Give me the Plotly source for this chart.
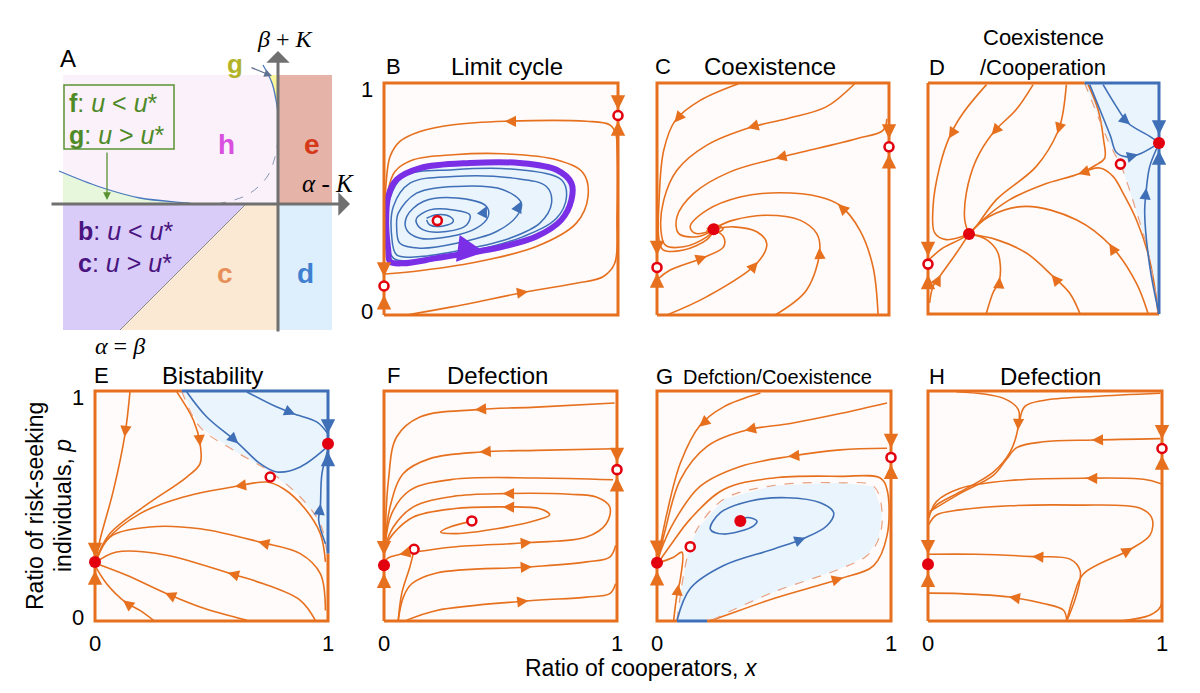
import plotly.graph_objects as go

W, H = 1200, 693
ORANGE = '#E6701E'
BLUE = '#3F6FB6'
BLUEFILL = '#EAF4FD'
PURPLE = '#7A2EE6'
RED = '#E3000F'
BG = '#FFFBFA'
FONT = 'Liberation Sans, Arial, sans-serif'
SERIF = 'Liberation Serif, DejaVu Serif, serif'

# ---------------- data (x = ratio of cooperators, p = ratio of risk-seeking) ----------------
# Panel B: limit cycle
B_outer = [(0.097, 0), (0.296, 0.036), (0.616, 0.101), (0.822, 0.137), (0.936, 0.165), (0.986, 0.223),
           (0.996, 0.424), (0.996, 0.712), (0.990, 0.784), (0.964, 0.820), (0.865, 0.835), (0.516, 0.835),
           (0.296, 0.820), (0.154, 0.791), (0.068, 0.748), (0.026, 0.683), (0.009, 0.568), (0.003, 0.424),
           (0.001, 0.281), (0, 0.165)]
B_orange2 = [(0.004, 0.177), (0.083, 0.183), (0.367, 0.223), (0.651, 0.295), (0.822, 0.396), (0.872, 0.511),
             (0.851, 0.612), (0.737, 0.669), (0.509, 0.695), (0.296, 0.691), (0.125, 0.669), (0.047, 0.619),
             (0.018, 0.540), (0.011, 0.424)]
B_cycle = [(0.018, 0.281), (0.009, 0.396), (0.018, 0.511), (0.054, 0.583), (0.154, 0.633), (0.367, 0.655),
           (0.580, 0.655), (0.737, 0.626), (0.801, 0.568), (0.801, 0.496), (0.758, 0.410), (0.651, 0.338),
           (0.509, 0.295), (0.395, 0.273), (0.225, 0.245), (0.083, 0.223), (0.026, 0.230), (0.018, 0.281)]
B_loop1 = [(0.182, 0.417), (0.225, 0.432), (0.282, 0.424), (0.296, 0.403), (0.253, 0.384), (0.196, 0.388), (0.182, 0.410)]
B_loop2 = [(0.139, 0.417), (0.196, 0.453), (0.296, 0.453), (0.367, 0.432), (0.353, 0.388), (0.267, 0.360),
           (0.168, 0.367), (0.139, 0.396), (0.139, 0.417)]
B_loop3 = [(0.097, 0.424), (0.168, 0.489), (0.310, 0.504), (0.438, 0.468), (0.445, 0.424), (0.395, 0.374),
           (0.282, 0.338), (0.154, 0.331), (0.097, 0.367), (0.097, 0.424)]
B_loop4 = [(0.061, 0.439), (0.139, 0.525), (0.310, 0.554), (0.509, 0.540), (0.587, 0.482), (0.566, 0.424),
           (0.481, 0.360), (0.310, 0.309), (0.154, 0.288), (0.068, 0.309), (0.054, 0.381), (0.061, 0.439)]
B_loop5 = [(0.040, 0.468), (0.111, 0.568), (0.296, 0.597), (0.552, 0.590), (0.694, 0.554), (0.716, 0.482),
           (0.666, 0.396), (0.538, 0.331), (0.339, 0.281), (0.154, 0.252), (0.054, 0.259), (0.033, 0.338), (0.040, 0.468)]
B_loop6 = [(0.023, 0.496), (0.083, 0.597), (0.296, 0.626), (0.580, 0.626), (0.758, 0.583), (0.780, 0.511),
           (0.737, 0.417), (0.595, 0.338), (0.367, 0.273), (0.154, 0.237), (0.040, 0.245), (0.018, 0.338), (0.023, 0.496)]
B_stable = []
B_unstable = [(1, 0.86), (0, 0.125), (0.228, 0.407)]
B_arrows = [(0.516, 0.835, 0.56, 0.835), (0.616, 0.101, 0.57, 0.094)]
B_arrows_blue = [(0.44, 0.47, 0.425, 0.44), (0.587, 0.49, 0.57, 0.455)]
B_arrows_purple = [(0.43, 0.271, 0.35, 0.282)]
B_edge = [(1, 0.885, 1, 0.94), (1, 0.835, 1, 0.78), (0, 0.165, 0, 0.22), (0, 0.086, 0, 0.03)]

# Panel C: coexistence
C_c1 = [(0.351, 0.997), (0.186, 0.925), (0.079, 0.839), (0.029, 0.710), (0.009, 0.495), (0.008, 0.33),
        (0.025, 0.282), (0.115, 0.28), (0.215, 0.325), (0.246, 0.366)]
C_c2 = [(0.852, 0.997), (0.729, 0.897), (0.559, 0.846), (0.401, 0.808), (0.215, 0.732), (0.086, 0.624),
        (0.029, 0.495), (0.017, 0.366), (0.036, 0.301), (0.115, 0.294), (0.215, 0.337), (0.246, 0.366)]
C_c3 = [(0.991, 0.846), (0.974, 0.796), (0.860, 0.760), (0.530, 0.679), (0.315, 0.617), (0.158, 0.524),
        (0.086, 0.423), (0.093, 0.352), (0.172, 0.337), (0.244, 0.366)]
C_c4 = [(0.953, 0), (0.931, 0.208), (0.874, 0.366), (0.788, 0.473), (0.702, 0.509), (0.530, 0.527),
        (0.358, 0.509), (0.215, 0.452), (0.143, 0.380), (0.165, 0.352), (0.246, 0.366)]
C_c5 = [(0.509, 0), (0.645, 0.108), (0.702, 0.280), (0.688, 0.352), (0.616, 0.409), (0.473, 0.430),
        (0.330, 0.409), (0.258, 0.380)]
C_c6 = [(0.043, 0), (0.215, 0.079), (0.430, 0.222), (0.473, 0.308), (0.430, 0.359), (0.330, 0.380), (0.258, 0.373)]
C_c7 = [(0.007, 0.158), (0.057, 0.194), (0.201, 0.248), (0.287, 0.294), (0.287, 0.337), (0.251, 0.366)]
C_c8 = [(0.215, 0.37), (0.245, 0.39), (0.285, 0.372), (0.25, 0.352), (0.215, 0.362), (0.244, 0.37)]
C_stable = [(0.244, 0.370)]
C_unstable = [(0, 0.205), (1, 0.725)]
C_arrows = [(0.075, 0.83, 0.105, 0.865), (0.39, 0.806, 0.44, 0.82), (0.51, 0.675, 0.56, 0.687),
            (0.78, 0.478, 0.81, 0.45), (0.70, 0.29, 0.702, 0.25), (0.435, 0.23, 0.40, 0.19),
            (0.215, 0.253, 0.17, 0.237)]
C_edge = [(1, 0.76, 1, 0.815), (1, 0.693, 1, 0.64), (0, 0.258, 0, 0.315), (0, 0.18, 0, 0.125)]

# Panel D: coexistence / cooperation
D_d1 = [(0.253, 0.993), (0.152, 0.870), (0.094, 0.769), (0.051, 0.639), (0.022, 0.466), (0.029, 0.351),
        (0.079, 0.322), (0.177, 0.346)]
D_d2 = [(0.455, 0.993), (0.382, 0.885), (0.281, 0.784), (0.209, 0.668), (0.166, 0.524), (0.159, 0.408), (0.177, 0.346)]
D_d3 = [(0.599, 0.993), (0.584, 0.870), (0.563, 0.791), (0.469, 0.639), (0.296, 0.495), (0.209, 0.380), (0.177, 0.346)]
D_d4 = [(0.693, 0.993), (0.736, 0.885), (0.760, 0.755), (0.765, 0.675), (0.729, 0.646), (0.657, 0.608),
        (0.498, 0.560), (0.354, 0.495), (0.238, 0.408), (0.177, 0.346)]
D_d5 = [(0.996, 0), (0.981, 0.120), (0.952, 0.264), (0.902, 0.408), (0.844, 0.524), (0.801, 0.596),
        (0.743, 0.632), (0.657, 0.608)]
D_d6 = [(0.952, 0.004), (0.902, 0.134), (0.794, 0.293), (0.642, 0.408), (0.426, 0.466), (0.267, 0.423), (0.177, 0.346)]
D_d7 = [(0.657, 0.004), (0.613, 0.091), (0.541, 0.163), (0.426, 0.264), (0.296, 0.322), (0.177, 0.346)]
D_d8 = [(0.253, 0.004), (0.281, 0.091), (0.310, 0.149), (0.303, 0.264), (0.253, 0.322), (0.177, 0.346)]
D_d9 = [(0.007, 0.048), (0.022, 0.120), (0.051, 0.163), (0.123, 0.264), (0.177, 0.346)]
D_d10 = [(0.004, 0.235), (0.065, 0.286), (0.137, 0.322), (0.177, 0.346)]
D_sep = [(0.678, 1.0), (0.73, 0.87), (0.775, 0.76), (0.81, 0.69), (0.835, 0.645), (0.865, 0.56),
         (0.9, 0.45), (0.94, 0.32), (0.97, 0.18), (0.99, 0.06), (0.996, 0)]
D_b1 = [(0.758, 0.993), (0.815, 0.899), (0.866, 0.827), (0.960, 0.769), (1.0, 0.742)]
D_b2 = [(0.70, 0.993), (0.75, 0.87), (0.79, 0.77), (0.815, 0.70), (0.86, 0.68), (0.91, 0.69), (1.0, 0.74)]
D_b3 = [(0.996, 0.019), (0.960, 0.206), (0.938, 0.437), (0.945, 0.538), (0.960, 0.639), (1.0, 0.738)]
D_stable = [(0.1775, 0.346), (1.0, 0.74)]
D_unstable = [(0.833, 0.649), (0, 0.216)]
D_arrows = [(0.09, 0.76, 0.115, 0.80), (0.275, 0.775, 0.31, 0.815), (0.56, 0.78, 0.575, 0.83),
            (0.65, 0.606, 0.70, 0.622), (0.785, 0.305, 0.81, 0.265), (0.535, 0.17, 0.565, 0.135),
            (0.31, 0.16, 0.307, 0.115), (0.055, 0.17, 0.035, 0.13)]
D_arrows_blue = [(0.875, 0.82, 0.84, 0.85), (0.91, 0.69, 0.87, 0.68), (0.945, 0.545, 0.94, 0.50)]
D_edge = [(0, 0.25, 0, 0.305), (0, 0.17, 0, 0.115)]
D_edge_blue = [(1, 0.776, 1, 0.83), (1, 0.708, 1, 0.655)]

# Panel E: bistability
E_e1 = [(0.150, 0.996), (0.129, 0.814), (0.079, 0.568), (0.021, 0.351), (0.003, 0.257)]
E_e2 = [(0.351, 0.996), (0.423, 0.872), (0.451, 0.771), (0.451, 0.684), (0.394, 0.626), (0.208, 0.496),
        (0.064, 0.380), (0.003, 0.264)]
E_e3 = [(0.989, 0.257), (0.967, 0.380), (0.895, 0.496), (0.809, 0.575), (0.738, 0.604), (0.609, 0.586),
        (0.380, 0.539), (0.193, 0.467), (0.050, 0.351), (0.003, 0.257)]
E_e4 = [(0.989, 0.046), (0.967, 0.206), (0.881, 0.293), (0.709, 0.343), (0.451, 0.401), (0.236, 0.409),
        (0.064, 0.365), (0.007, 0.264)]
E_e5 = [(0.946, 0.003), (0.881, 0.090), (0.723, 0.162), (0.580, 0.206), (0.308, 0.286), (0.093, 0.300), (0.007, 0.257)]
E_e6 = [(0.652, 0.003), (0.451, 0.061), (0.308, 0.119), (0.136, 0.199), (0.007, 0.249)]
E_e7 = [(0.251, 0.003), (0.193, 0.046), (0.129, 0.083), (0.050, 0.162), (0.003, 0.235)]
E_sep = [(0.372, 1.0), (0.451, 0.843), (0.595, 0.742), (0.757, 0.645), (0.881, 0.539), (0.967, 0.423), (0.996, 0.293)]
E_b1 = [(0.652, 0.996), (0.781, 0.930), (0.852, 0.901), (0.953, 0.865), (1.0, 0.814)]
E_b2 = [(0.394, 0.996), (0.480, 0.887), (0.609, 0.778), (0.709, 0.684), (0.781, 0.648), (0.881, 0.670), (1.0, 0.76)]
E_b3 = [(0.989, 0.336), (0.960, 0.438), (0.967, 0.496), (0.974, 0.641), (1.0, 0.745)]
E_stable = [(0, 0.2565), (1, 0.771)]
E_unstable = [(0.752, 0.626)]
E_arrows = [(0.127, 0.80, 0.133, 0.85), (0.451, 0.76, 0.447, 0.81), (0.60, 0.585, 0.65, 0.592),
            (0.70, 0.345, 0.75, 0.332), (0.57, 0.21, 0.62, 0.195), (0.30, 0.122, 0.35, 0.10),
            (0.12, 0.09, 0.155, 0.063)]
E_arrows_blue = [(0.86, 0.898, 0.82, 0.915), (0.615, 0.772, 0.58, 0.805), (0.968, 0.51, 0.962, 0.46)]
E_edge = [(0, 0.278, 0, 0.335), (0, 0.22, 0, 0.165)]
E_edge_blue = [(1, 0.815, 1, 0.87), (1, 0.735, 1, 0.68)]

# Panel F: defection
F_f1 = [(0.990, 0.948), (0.654, 0.930), (0.397, 0.919), (0.154, 0.887), (0.054, 0.800), (0.019, 0.612), (0.004, 0.322)]
F_f2 = [(0.990, 0.749), (0.654, 0.742), (0.419, 0.735), (0.197, 0.706), (0.083, 0.641), (0.026, 0.496), (0.004, 0.322)]
F_f3 = [(0.983, 0.614), (0.654, 0.622), (0.297, 0.616), (0.111, 0.568), (0.033, 0.467), (0.004, 0.322)]
F_f4 = [(0.133, 0.300), (0.297, 0.322), (0.626, 0.341), (0.869, 0.365), (0.954, 0.423), (0.969, 0.496),
        (0.911, 0.539), (0.797, 0.551), (0.519, 0.554), (0.297, 0.542), (0.126, 0.496), (0.040, 0.409), (0.004, 0.322)]
F_f5 = [(0.37, 0.432), (0.283, 0.409), (0.243, 0.387), (0.311, 0.380), (0.483, 0.401), (0.654, 0.438),
        (0.711, 0.462), (0.669, 0.488), (0.519, 0.496), (0.297, 0.488), (0.126, 0.452), (0.040, 0.380), (0.004, 0.322)]
F_f6 = [(0.061, 0.003), (0.083, 0.104), (0.119, 0.162), (0.226, 0.209), (0.626, 0.235), (0.869, 0.257),
        (0.969, 0.278), (0.994, 0.329)]
F_f7 = [(0.097, 0.003), (0.226, 0.046), (0.611, 0.087), (0.869, 0.104), (0.969, 0.119), (0.994, 0.162)]
F_f8 = [(0.061, 0), (0.076, 0.119), (0.111, 0.235), (0.129, 0.307)]
F_f9 = [(0.123, 0.304), (0.069, 0.290), (0.019, 0.275), (0, 0.257)]
F_stable = [(0, 0.242)]
F_unstable = [(0.129, 0.312), (0.377, 0.435), (1, 0.658)]
F_arrows = [(0.39, 0.919, 0.44, 0.922), (0.41, 0.735, 0.46, 0.738), (0.51, 0.554, 0.56, 0.554),
            (0.51, 0.496, 0.56, 0.495), (0.635, 0.342, 0.59, 0.338), (0.635, 0.236, 0.59, 0.233),
            (0.62, 0.088, 0.575, 0.083), (0.065, 0.289, 0.10, 0.297)]
F_edge = [(1, 0.691, 1, 0.745), (1, 0.626, 1, 0.57), (0, 0.285, 0, 0.34), (0, 0.206, 0, 0.15)]

# Panel G: defection / coexistence
G_g1 = [(0.442, 0.991), (0.285, 0.931), (0.185, 0.852), (0.100, 0.687), (0.043, 0.471), (0.014, 0.328), (0, 0.256)]
G_g2 = [(0.983, 0.948), (0.783, 0.902), (0.570, 0.859), (0.385, 0.830), (0.214, 0.759), (0.100, 0.615),
        (0.036, 0.399), (0.003, 0.256)]
G_g3 = [(0.983, 0.751), (0.783, 0.744), (0.570, 0.716), (0.356, 0.672), (0.185, 0.586), (0.071, 0.428),
        (0.014, 0.299), (0.003, 0.256)]
G_g4 = [(0.221, 0), (0.256, 0.011), (0.499, 0.098), (0.783, 0.184), (0.926, 0.241), (0.983, 0.371),
        (0.983, 0.572), (0.954, 0.622), (0.783, 0.629), (0.499, 0.622), (0.285, 0.572), (0.142, 0.443),
        (0.057, 0.328), (0.007, 0.256)]
G_g5 = [(0.071, 0), (0.085, 0.112), (0.100, 0.184), (0.107, 0.299), (0.071, 0.277), (0.007, 0.253)]
G_sep = [(0.085, 0), (0.100, 0.112), (0.121, 0.241), (0.142, 0.323), (0.171, 0.399), (0.285, 0.529),
         (0.499, 0.589), (0.783, 0.601), (0.926, 0.586), (0.962, 0.471), (0.947, 0.356), (0.897, 0.284),
         (0.783, 0.227), (0.499, 0.126), (0.249, 0.011), (0.23, 0)]
G_b1 = [(0.085, 0), (0.142, 0.141), (0.285, 0.241), (0.499, 0.313), (0.627, 0.359), (0.726, 0.414),
        (0.755, 0.471), (0.698, 0.514), (0.556, 0.536), (0.399, 0.522), (0.271, 0.471), (0.228, 0.399),
        (0.285, 0.378), (0.413, 0.414), (0.427, 0.435), (0.385, 0.450), (0.356, 0.435)]
G_stable = [(0, 0.253), (0.356, 0.435)]
G_unstable = [(0.142, 0.323), (1, 0.711)]
G_arrows = [(0.18, 0.845, 0.215, 0.875), (0.375, 0.828, 0.425, 0.84), (0.56, 0.715, 0.61, 0.72),
            (0.795, 0.188, 0.75, 0.175), (0.092, 0.16, 0.086, 0.11)]
G_arrows_blue = [(0.635, 0.362, 0.59, 0.345)]
G_edge = [(1, 0.751, 1, 0.805), (1, 0.68, 1, 0.625), (0, 0.287, 0, 0.34), (0, 0.217, 0, 0.16)]

# Panel H: defection
H_h1 = [(0.121, 0.997), (0.321, 0.969), (0.386, 0.919), (0.386, 0.847), (0.350, 0.733), (0.279, 0.647),
        (0.136, 0.561), (0.036, 0.504), (0.003, 0.461)]
H_h2 = [(0.993, 0.990), (0.707, 0.976), (0.493, 0.959), (0.414, 0.933), (0.393, 0.876)]
H_h3 = [(0.993, 0.793), (0.707, 0.787), (0.493, 0.779), (0.379, 0.754), (0.336, 0.704), (0.279, 0.633),
        (0.136, 0.554), (0.007, 0.476)]
H_h4 = [(0.996, 0.597), (0.921, 0.616), (0.679, 0.621), (0.350, 0.611), (0.136, 0.576), (0.036, 0.519), (0.003, 0.447)]
H_h5 = [(0.593, 0), (0.621, 0.104), (0.664, 0.204), (0.864, 0.311), (0.950, 0.376), (0.957, 0.447),
        (0.907, 0.490), (0.636, 0.504), (0.350, 0.501), (0.136, 0.483), (0.036, 0.461), (0.003, 0.419)]
H_h6 = [(0.593, 0), (0.579, 0.047), (0.493, 0.076), (0.350, 0.104), (0.136, 0.119), (0.003, 0.121)]
H_h7 = [(0.593, 0), (0.636, 0.119), (0.650, 0.219), (0.607, 0.269), (0.450, 0.280), (0.207, 0.290), (0.003, 0.290)]
H_h8 = [(0.821, 0), (0.950, 0.026), (0.993, 0.061), (1.0, 0.133)]
H_stable = [(0, 0.247)]
H_unstable = [(1, 0.75)]
H_arrows = [(0.385, 0.83, 0.387, 0.88), (0.70, 0.787, 0.75, 0.788), (0.675, 0.621, 0.725, 0.62),
            (0.875, 0.318, 0.835, 0.295), (0.445, 0.28, 0.495, 0.278), (0.345, 0.105, 0.395, 0.097)]
H_edge = [(1, 0.79, 1, 0.845), (1, 0.72, 1, 0.665), (0, 0.29, 0, 0.345), (0, 0.21, 0, 0.155)]

# Panel A: phase diagram (horizontal: alpha-K, vertical: beta+K)
A_purple = [(-2.15, 0), (-0.32, 0), (-1.58, -1.26), (-2.15, -1.26)]
A_peach = [(-0.32, 0), (0, 0), (0, -1.26), (-1.58, -1.26)]
A_blue = [(0, 0), (0.54, 0), (0.54, -1.26), (0, -1.26)]
A_salmon = [(0, 0), (0.54, 0), (0.54, 1.29), (0, 1.29)]
A_pink = [(-2.15, 0), (0, 0), (0, 1.29), (-2.15, 1.29)]
A_green = [(-2.15, 0), (-2.15, 0.31), (-1.78, 0.17), (-1.38, 0.06), (-0.91, 0.01), (-0.85, 0)]
A_yellow = [(-0.10, 1.29), (-0.06, 1.21), (-0.02, 1.04), (0, 0.91), (0, 1.29)]
A_curve_f = [(-2.19, 0.33), (-1.78, 0.17), (-1.38, 0.06), (-0.91, 0.01), (-0.85, 0)]
A_curve_g = [(-0.15, 1.39), (-0.06, 1.21), (-0.02, 1.04), (0, 0.91)]
A_dash = [(-0.61, 0), (-0.31, 0.09), (-0.11, 0.27), (-0.03, 0.47), (0, 0.64)]
A_diag = [(-1.58, -1.26), (-0.32, 0)]

# ---------------- layout helpers ----------------
BOX = {'B': (384, 618, 83, 315), 'C': (657, 889, 83, 315), 'D': (928, 1159, 83, 314),
       'E': (95, 328, 391, 621), 'F': (384, 617, 391, 621), 'G': (657, 891, 391, 621), 'H': (928, 1162, 391, 621)}
IDX = {'A': 1, 'B': 2, 'C': 3, 'D': 4, 'E': 5, 'F': 6, 'G': 7, 'H': 8}
PAD = 8

fig = go.Figure()
layout = dict(width=W, height=H, margin=dict(l=0, r=0, t=0, b=0), plot_bgcolor='white',
              paper_bgcolor='white', showlegend=False)
annotations = []
shapes = []


def refs(panel):
    i = IDX[panel]
    s = '' if i == 1 else str(i)
    return 'x' + s, 'y' + s


def axis_name(kind, panel):
    i = IDX[panel]
    return kind + 'axis' + ('' if i == 1 else str(i))


for pn, (l, r, t, b) in BOX.items():
    w, h = r - l, b - t
    xr, yr = refs(pn)
    layout[axis_name('x', pn)] = dict(domain=[(l - PAD) / W, (r + PAD) / W], range=[-PAD / w, 1 + PAD / w],
                                      visible=False, fixedrange=True, anchor=yr)
    layout[axis_name('y', pn)] = dict(domain=[1 - (b + PAD) / H, 1 - (t - PAD) / H], range=[-PAD / h, 1 + PAD / h],
                                      visible=False, fixedrange=True, anchor=xr)

layout['xaxis'] = dict(domain=[0, 360 / W], range=[-2.78, 0.82], visible=False, fixedrange=True, anchor='y')
layout['yaxis'] = dict(domain=[1 - 360 / H, 1], range=[-1.56, 2.04], visible=False, fixedrange=True, anchor='x')


def xs(pts):
    return [q[0] for q in pts]


def ys(pts):
    return [q[1] for q in pts]


def line(panel, pts, color=ORANGE, width=1.6, dash=None, shape='spline'):
    xr, yr = refs(panel)
    fig.add_trace(go.Scatter(x=xs(pts), y=ys(pts), mode='lines', xaxis=xr, yaxis=yr, hoverinfo='skip',
                             line=dict(color=color, width=width, dash=dash, shape=shape, smoothing=1.0)))


def fill(panel, pts, color, shape='linear'):
    xr, yr = refs(panel)
    fig.add_trace(go.Scatter(x=xs(pts), y=ys(pts), mode='lines', fill='toself', fillcolor=color,
                             xaxis=xr, yaxis=yr, hoverinfo='skip', line=dict(width=0, shape=shape)))


def arrows(panel, lst, color=ORANGE, width=1.5, size=1.5):
    xr, yr = refs(panel)
    for tx, ty, sx, sy in lst:
        annotations.append(dict(x=tx, y=ty, ax=sx, ay=sy, xref=xr, yref=yr, axref=xr, ayref=yr, text='',
                                showarrow=True, arrowhead=2, arrowsize=size, arrowwidth=width,
                                arrowcolor=color, standoff=0))


def points(panel, stable, unstable):
    xr, yr = refs(panel)
    if stable:
        fig.add_trace(go.Scatter(x=xs(stable), y=ys(stable), mode='markers', xaxis=xr, yaxis=yr, cliponaxis=False,
                                 hoverinfo='skip', marker=dict(size=12, color=RED, line=dict(width=0))))
    if unstable:
        fig.add_trace(go.Scatter(x=xs(unstable), y=ys(unstable), mode='markers', xaxis=xr, yaxis=yr,
                                 cliponaxis=False, hoverinfo='skip',
                                 marker=dict(size=9, color='white', line=dict(width=2.6, color=RED))))


SQUARE = [(0, 0), (1, 0), (1, 1), (0, 1), (0, 0)]
EDGE_W, EDGE_S = 2.4, 1.2


def border(panel, segments):
    for seg, col in segments:
        line(panel, seg, color=col, width=3, shape='linear')


# ---------------- panel B ----------------
fill('B', SQUARE, BG)
fill('B', B_cycle, BLUEFILL, shape='spline')
for c in (B_outer, B_orange2):
    line('B', c)
for c in (B_loop1, B_loop2, B_loop3, B_loop4, B_loop5, B_loop6):
    line('B', c, color=BLUE, width=1.5)
line('B', B_cycle, color=PURPLE, width=6)
border('B', [(SQUARE, ORANGE)])
points('B', B_stable, B_unstable)
arrows('B', B_arrows)
arrows('B', B_arrows_blue, color=BLUE)
arrows('B', B_arrows_purple, color=PURPLE, width=3, size=1.8)
arrows('B', B_edge, width=EDGE_W, size=EDGE_S)

# ---------------- panel C ----------------
fill('C', SQUARE, BG)
for c in (C_c1, C_c2, C_c3, C_c4, C_c5, C_c6, C_c7, C_c8):
    line('C', c)
border('C', [(SQUARE, ORANGE)])
points('C', C_stable, C_unstable)
arrows('C', C_arrows)
arrows('C', C_edge, width=EDGE_W, size=EDGE_S)

# ---------------- panel D ----------------
fill('D', SQUARE, BG)
fill('D', D_sep + [(1, 0), (1, 1)], BLUEFILL)
for c in (D_d1, D_d2, D_d3, D_d4, D_d5, D_d6, D_d7, D_d8, D_d9, D_d10):
    line('D', c)
line('D', D_sep, color='#E8A080', width=1.2, dash='dash')
for c in (D_b1, D_b2, D_b3):
    line('D', c, color=BLUE)
border('D', [([(0, 1), (0, 0), (1, 0)], ORANGE), ([(0, 1), (0.678, 1)], ORANGE),
             ([(0.678, 1), (1, 1), (1, 0)], BLUE)])
points('D', D_stable, D_unstable)
arrows('D', D_arrows)
arrows('D', D_arrows_blue, color=BLUE)
arrows('D', D_edge, width=EDGE_W, size=EDGE_S)
arrows('D', D_edge_blue, color=BLUE, width=EDGE_W, size=EDGE_S)

# ---------------- panel E ----------------
fill('E', SQUARE, BG)
fill('E', E_sep + [(1, 1)], BLUEFILL)
for c in (E_e1, E_e2, E_e3, E_e4, E_e5, E_e6, E_e7):
    line('E', c)
line('E', E_sep, color='#E8A080', width=1.2, dash='dash')
for c in (E_b1, E_b2, E_b3):
    line('E', c, color=BLUE)
border('E', [([(0.372, 1), (0, 1), (0, 0), (1, 0), (1, 0.293)], ORANGE),
             ([(0.372, 1), (1, 1), (1, 0.293)], BLUE)])
points('E', E_stable, E_unstable)
arrows('E', E_arrows)
arrows('E', E_arrows_blue, color=BLUE)
arrows('E', E_edge, width=EDGE_W, size=EDGE_S)
arrows('E', E_edge_blue, color=BLUE, width=EDGE_W, size=EDGE_S)

# ---------------- panel F ----------------
fill('F', SQUARE, BG)
for c in (F_f1, F_f2, F_f3, F_f4, F_f5, F_f6, F_f7, F_f8, F_f9):
    line('F', c)
border('F', [(SQUARE, ORANGE)])
points('F', F_stable, F_unstable)
arrows('F', F_arrows)
arrows('F', F_edge, width=EDGE_W, size=EDGE_S)

# ---------------- panel G ----------------
fill('G', SQUARE, BG)
fill('G', G_sep, BLUEFILL)
for c in (G_g1, G_g2, G_g3, G_g4, G_g5):
    line('G', c)
line('G', G_sep, color='#E8A080', width=1.2, dash='dash')
line('G', G_b1, color=BLUE)
border('G', [([(0.085, 0), (0, 0), (0, 1), (1, 1), (1, 0), (0.214, 0)], ORANGE),
             ([(0.085, 0), (0.214, 0)], BLUE)])
points('G', G_stable, G_unstable)
arrows('G', G_arrows)
arrows('G', G_arrows_blue, color=BLUE)
arrows('G', G_edge, width=EDGE_W, size=EDGE_S)

# ---------------- panel H ----------------
fill('H', SQUARE, BG)
for c in (H_h1, H_h2, H_h3, H_h4, H_h5, H_h6, H_h7, H_h8):
    line('H', c)
border('H', [(SQUARE, ORANGE)])
points('H', H_stable, H_unstable)
arrows('H', H_arrows)
arrows('H', H_edge, width=EDGE_W, size=EDGE_S)

# ---------------- panel A ----------------
fill('A', A_pink, '#FAF1FA')
fill('A', A_purple, '#D9CCF8')
fill('A', A_peach, '#FBE9D3')
fill('A', A_blue, '#DDEFFD')
fill('A', A_salmon, '#E5B3A8')
fill('A', A_green, '#E6F7DC')
fill('A', A_yellow, '#F8F59A')
line('A', A_diag, color='#8A8A8A', width=1, shape='linear')
line('A', A_curve_f, color='#4A78C0', width=1.3)
line('A', A_curve_g, color='#4A78C0', width=1.3)
line('A', A_dash, color='#8A96B8', width=1, dash='dash')
shapes.append(dict(type='rect', xref='x', yref='y', x0=-2.14, x1=-1.04, y0=0.55, y1=1.19,
                   line=dict(color='#5A9232', width=1.5), fillcolor='rgba(0,0,0,0)'))
# axes with arrow heads
annotations.append(dict(x=0.72, y=0, ax=-2.28, ay=0, xref='x', yref='y', axref='x', ayref='y', text='',
                        showarrow=True, arrowhead=1, arrowsize=1.3, arrowwidth=3, arrowcolor='#707070'))
annotations.append(dict(x=0, y=1.53, ax=0, ay=-1.29, xref='x', yref='y', axref='x', ayref='y', text='',
                        showarrow=True, arrowhead=1, arrowsize=1.3, arrowwidth=3, arrowcolor='#707070'))
annotations.append(dict(x=-0.06, y=1.28, ax=-0.28, ay=1.37, xref='x', yref='y', axref='x', ayref='y', text='',
                        showarrow=True, arrowhead=2, arrowsize=1.2, arrowwidth=1.3, arrowcolor='#607090'))
annotations.append(dict(x=-1.71, y=0.04, ax=-1.71, ay=0.53, xref='x', yref='y', axref='x', ayref='y', text='',
                        showarrow=True, arrowhead=2, arrowsize=1.2, arrowwidth=1.3, arrowcolor='#5A9232'))


def txt(x, y, s, size=22, color='black', xanchor='center', family=FONT, ref=('x', 'y'), angle=0):
    annotations.append(dict(x=x, y=y, text=s, xref=ref[0], yref=ref[1], showarrow=False, xanchor=xanchor,
                            yanchor='middle', textangle=angle, font=dict(size=size, color=color, family=family)))


GREEN = '#4F8A28'
txt(-2.10, 1.46, 'A', size=24)
txt(0.07, 1.65, '<i>β</i> + <i>K</i>', size=24, family=SERIF)
txt(-0.43, 1.40, '<b>g</b>', size=26, color='#B3B32A')
txt(-2.11, 1.01, '<b>f</b>: <i>u</i> &lt; <i>u</i>*', size=25, color=GREEN, xanchor='left')
txt(-2.11, 0.69, '<b>g</b>: <i>u</i> &gt; <i>u</i>*', size=25, color=GREEN, xanchor='left')
txt(-0.52, 0.60, '<b>h</b>', size=28, color='#D94FE0')
txt(0.34, 0.60, '<b>e</b>', size=28, color='#D6381A')
txt(0.50, 0.21, '<i>α</i> - <i>K</i>', size=25, family=SERIF)
txt(-2.02, -0.27, '<b>b</b>: <i>u</i> &lt; <i>u</i>*', size=25, color='#4A1480', xanchor='left')
txt(-2.02, -0.59, '<b>c</b>: <i>u</i> &gt; <i>u</i>*', size=25, color='#4A1480', xanchor='left')
txt(-0.53, -0.69, '<b>c</b>', size=28, color='#E8905A')
txt(0.27, -0.69, '<b>d</b>', size=28, color='#3F7FD0')
txt(-1.58, -1.42, '<i>α</i> = <i>β</i>', size=24, family=SERIF)

# panel titles (pixel positions -> paper)
P = ('paper', 'paper')
for letter, lx, ly, title, tx, ty, sz in [('B', 393, 66, 'Limit cycle', 507, 66, 24),
                                           ('C', 663, 66, 'Coexistence', 770, 66, 24),
                                           ('D', 937, 67, '/Cooperation', 1043, 67, 22),
                                           ('E', 101, 375, 'Bistability', 212, 375, 24),
                                           ('F', 393, 375, 'Defection', 497, 375, 24),
                                           ('G', 664, 376, 'Defction/Coexistence', 777, 377, 20),
                                           ('H', 937, 376, 'Defection', 1050, 376, 24)]:
    txt(lx / W, 1 - ly / H, letter, size=22, ref=P)
    txt(tx / W, 1 - ty / H, title, size=sz, ref=P)
txt(1043 / W, 1 - 38 / H, 'Coexistence', size=22, ref=P)

# tick labels
for pn in ('B', 'E'):
    xr, yr = refs(pn)
    annotations.append(dict(x=0, y=1, text='1', xref=xr, yref=yr, showarrow=False, xshift=-17, yshift=-6,
                            font=dict(size=22, family=FONT, color='black')))
    annotations.append(dict(x=0, y=0, text='0', xref=xr, yref=yr, showarrow=False, xshift=-17, yshift=4,
                            font=dict(size=22, family=FONT, color='black')))
for pn in ('E', 'F', 'G', 'H'):
    xr, yr = refs(pn)
    for v in (0, 1):
        annotations.append(dict(x=v, y=0, text=str(v), xref=xr, yref=yr, showarrow=False, yshift=-22,
                                font=dict(size=22, family=FONT, color='black')))

# axis titles
txt(35 / W, 1 - 506 / H, 'Ratio of risk-seeking', size=23, ref=P, angle=-90)
txt(63 / W, 1 - 506 / H, 'individuals, <i>p</i>', size=23, ref=P, angle=-90)
txt(641 / W, 1 - 668 / H, 'Ratio of cooperators, <i>x</i>', size=23, ref=P)

layout['annotations'] = annotations
layout['shapes'] = shapes
fig.update_layout(**layout)
fig.write_html('out.html', config={'displayModeBar': False},
               post_script="document.body.style.margin='0px';document.body.style.padding='0px';")
